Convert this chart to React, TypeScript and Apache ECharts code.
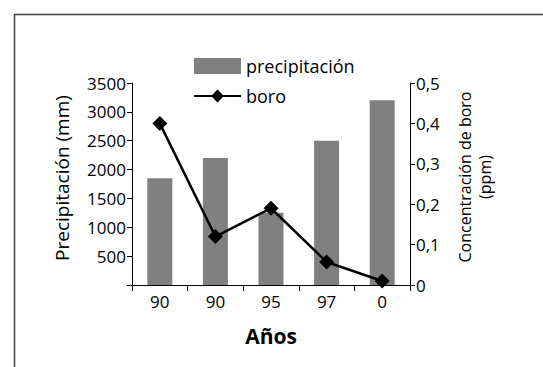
import React, { useEffect, useRef } from "react";
import * as echarts from "echarts";

const years = ["90", "90", "95", "97", "0"];
const precipitacion = [1850, 2200, 1250, 2500, 3200];
const boro = [0.4, 0.12, 0.19, 0.057, 0.01];
const leftTicks = { min: 0, max: 3500, interval: 500 };
const rightTicks = { min: 0, max: 0.5, interval: 0.1 };

export default function App() {
  const ref = useRef<HTMLDivElement>(null);
  useEffect(() => {
    document.body.style.margin = "0";
    const chart = echarts.init(ref.current!, null, { renderer: "svg" });
    const sans = "Open Sans, sans-serif";
    chart.setOption({
      animation: false,
      backgroundColor: "#ffffff",
      graphic: [
        {
          type: "rect",
          left: 12,
          top: 12,
          shape: { width: 700, height: 500 },
          style: { fill: "none", stroke: "#404040", lineWidth: 1.5 },
          silent: true,
        },
      ],
      legend: {
        orient: "vertical",
        left: 193,
        top: 57,
        padding: 0,
        itemWidth: 47,
        itemHeight: 16,
        itemGap: 12,
        textStyle: { fontFamily: sans, fontSize: 18, color: "#000", lineHeight: 18 },
        data: [
          { name: "precipitación", icon: "rect" },
          { name: "boro" },
        ],
      },
      grid: { left: 132, right: 133, top: 83, bottom: 82, containLabel: false },
      xAxis: {
        type: "category",
        data: years,
        name: "Años",
        nameLocation: "middle",
        nameGap: 40,
        nameTextStyle: { fontFamily: sans, fontWeight: "bold", fontSize: 21, color: "#000" },
        axisLine: { lineStyle: { color: "#000", width: 1 } },
        axisTick: { show: true, length: 6, lineStyle: { color: "#000" } },
        axisLabel: { fontFamily: sans, fontSize: 17, color: "#000", margin: 8 },
        splitLine: { show: false },
      },
      yAxis: [
        {
          type: "value",
          min: leftTicks.min,
          max: leftTicks.max,
          interval: leftTicks.interval,
          name: "Precipitación (mm)",
          nameLocation: "middle",
          nameRotate: 90,
          nameGap: 61,
          nameTextStyle: { fontFamily: sans, fontSize: 19, color: "#000", padding: [0, 0, 0, 12] },
          axisLine: { show: true, lineStyle: { color: "#000", width: 1 } },
          axisTick: { show: true, length: 5, lineStyle: { color: "#000" } },
          axisLabel: {
            fontFamily: sans,
            fontSize: 17,
            color: "#000",
            margin: 6,
            formatter: (v: number) => (v === 0 ? "" : String(v)),
          },
          splitLine: { show: false },
        },
        {
          type: "value",
          min: rightTicks.min,
          max: rightTicks.max,
          interval: rightTicks.interval,
          position: "right",
          name: "Concentración de boro\n(ppm)",
          nameLocation: "middle",
          nameRotate: 90,
          nameGap: 45,
          nameTextStyle: { fontFamily: sans, fontSize: 16, color: "#000", lineHeight: 20, padding: [0, 0, 0, 14] },
          axisLine: { show: true, lineStyle: { color: "#000", width: 1 } },
          axisTick: { show: true, length: 5, lineStyle: { color: "#000" } },
          axisLabel: {
            fontFamily: sans,
            fontSize: 17,
            color: "#000",
            margin: 6,
            formatter: (v: number) => (v === 0 ? "0" : v.toFixed(1).replace(".", ",")),
          },
          splitLine: { show: false },
        },
      ],
      series: [
        {
          name: "precipitación",
          type: "bar",
          data: precipitacion,
          yAxisIndex: 0,
          barWidth: 25,
          itemStyle: { color: "#808080" },
        },
        {
          name: "boro",
          type: "line",
          data: boro,
          yAxisIndex: 1,
          symbol: "diamond",
          symbolSize: 15,
          lineStyle: { color: "#000", width: 2.5 },
          itemStyle: { color: "#000" },
        },
      ],
    });
    return () => chart.dispose();
  }, []);
  return <div ref={ref} style={{ width: 543, height: 367 }} />;
}
